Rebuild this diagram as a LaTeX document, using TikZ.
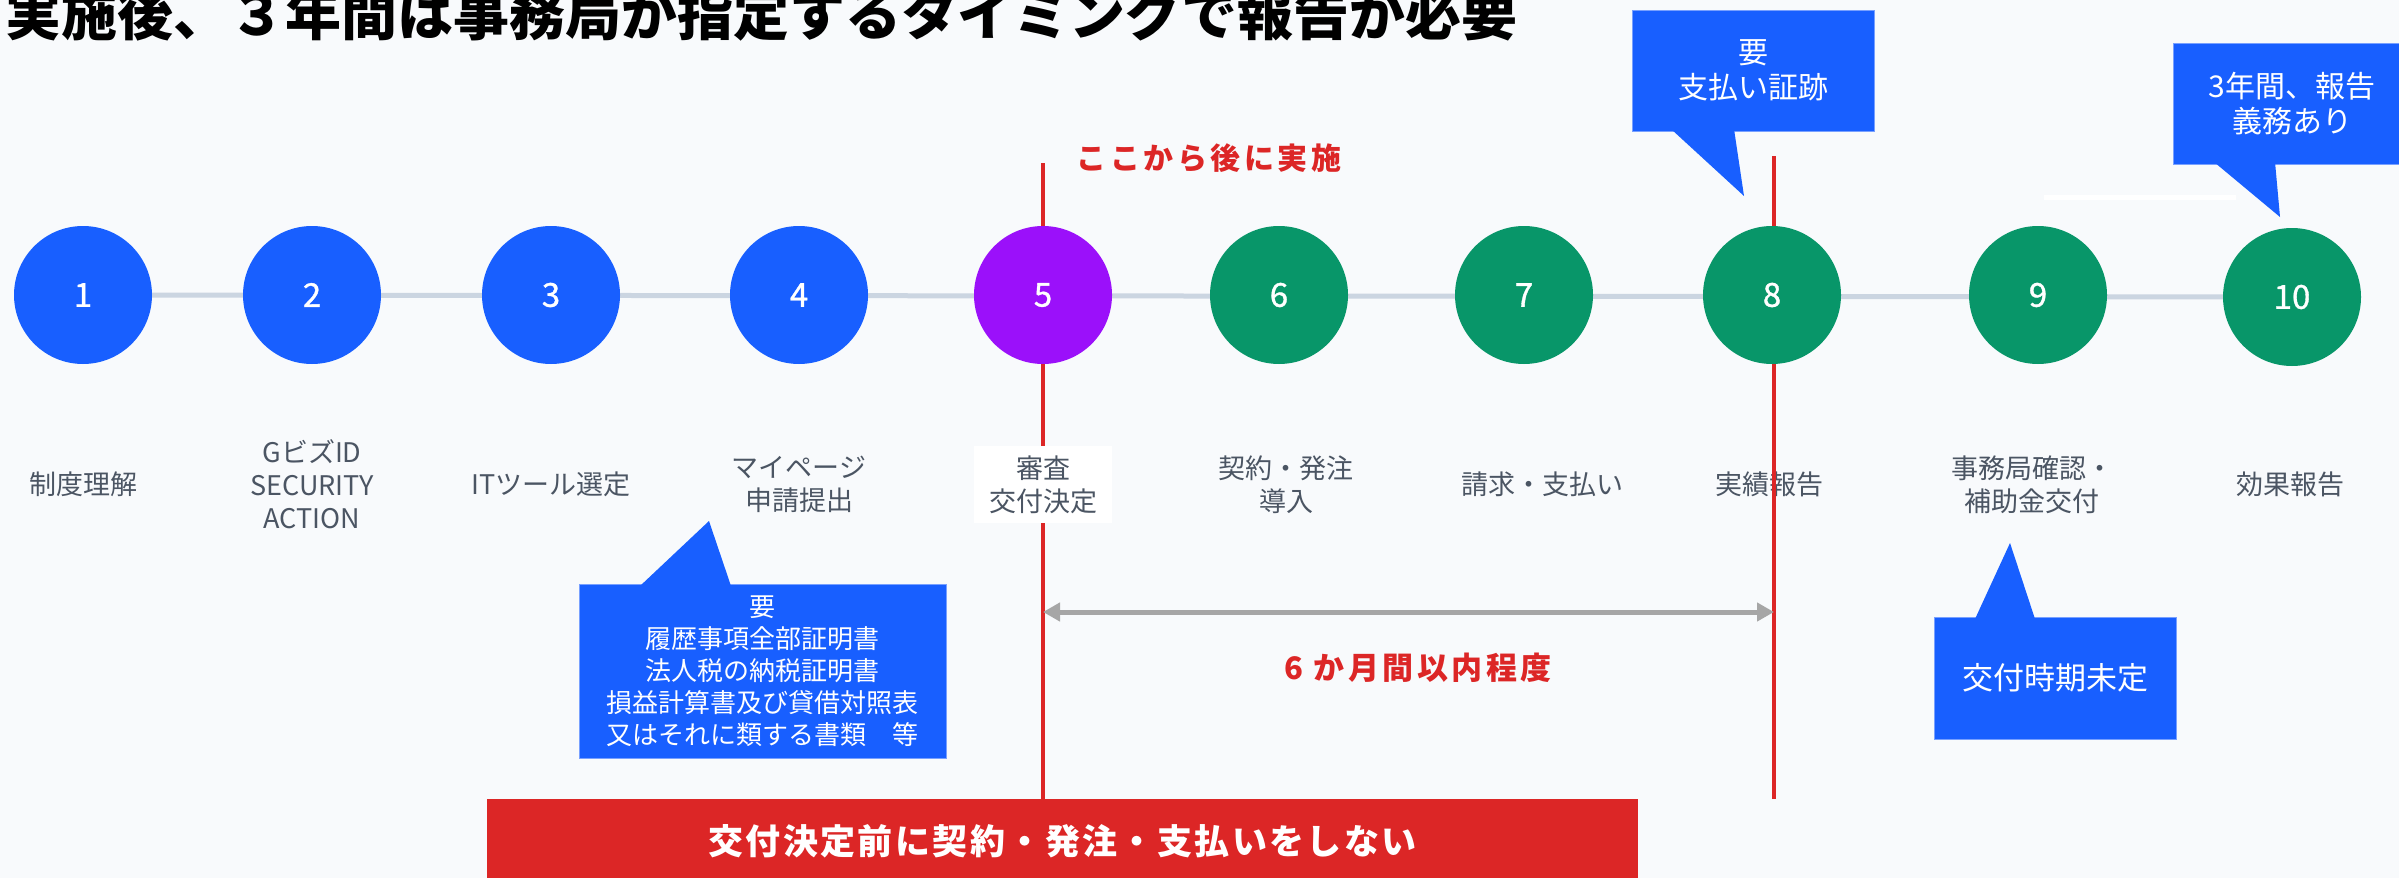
\documentclass[tikz,border=0pt]{standalone}
\usepackage{fontspec}
\setmainfont{Noto Sans CJK JP}
\newfontfamily\numfont[FakeBold=1]{Noto Sans CJK JP}
\usetikzlibrary{arrows.meta}
\definecolor{bgc}{RGB}{248,250,252}
\definecolor{cblue}{RGB}{24,95,255}
\definecolor{cgreen}{RGB}{8,150,105}
\definecolor{cpurple}{RGB}{155,16,250}
\definecolor{cred}{RGB}{220,38,38}
\definecolor{cgray}{RGB}{203,213,225}
\definecolor{agray}{RGB}{166,166,166}
\definecolor{lbl}{RGB}{75,85,99}
\definecolor{cborder}{RGB}{120,160,255}
\makeatletter
\newcommand\spreadtxt[2]{\@tfor\sp@ch:=#2\do{\sp@ch\kern#1}\kern-#1}
\makeatother
\tikzset{
  stepc/.style={circle, minimum size=69pt, inner sep=0pt, text=white,
    font=\numfont\fontsize{16.5pt}{20pt}\selectfont},
  stepb/.style={stepc, fill=cblue},
  stepg/.style={stepc, fill=cgreen},
  stepp/.style={stepc, fill=cpurple},
  lab/.style={text=lbl, align=center, inner sep=0pt,
    font=\fontsize{13.5pt}{16.5pt}\selectfont},
  callbox/.style={fill=cblue, draw=cborder, line width=0.5pt, text=white,
    align=center, inner sep=0pt},
  tailshape/.style={fill=cblue},
  redline/.style={draw=cred, line width=2pt},
  timeline/.style={draw=cgray, line width=2.5pt},
  span/.style={draw=agray, line width=2.5pt,
    {Triangle[length=8.5pt,width=9pt]}-{Triangle[length=8.5pt,width=9pt]}},
  redtxt/.style={text=cred, inner sep=0pt, font=\fontsize{15pt}{18pt}\selectfont\bfseries},
}
\begin{document}
\begin{tikzpicture}[x=0.5pt,y=-0.5pt]
\useasboundingbox (0,0) rectangle (2399,878);
\clip (0,0) rectangle (2399,878);
\fill[bgc] (0,0) rectangle (2399,878);

% title (cut at the top)
\node[anchor=base west, inner sep=0pt, font=\fontsize{28pt}{30pt}\selectfont\bfseries]
  (title) at (5,35) {実施後、３年間は事務局が指定するタイミン^^^^30b0で報告が必要};

% step positions
\coordinate (p1) at (83,295);
\coordinate (p2) at (312,295);
\coordinate (p3) at (551,295);
\coordinate (p4) at (799,295);
\coordinate (p5) at (1043,295);
\coordinate (p6) at (1279,295);
\coordinate (p7) at (1524,295);
\coordinate (p8) at (1772,295);
\coordinate (p9) at (2038,295);
\coordinate (p10) at (2292,297);

\draw[timeline] (p1) -- (p10);

% bottom red bar
\node[fill=cred, minimum width=575.5pt, minimum height=42pt, anchor=north, inner sep=0pt,
  text=white, font=\fontsize{17.5pt}{20pt}\selectfont\bfseries]
  (bar) at (1062.5,799) {\spreadtxt{1.2pt}{交付決定前に契約・発注・支払いをしない}};

% labels
\node[lab] (l1) at (83,484) {制度理解};
\node[lab] (l2) at (312,484) {GビズID\\SECURITY\\ACTION};
\node[lab] (l3) at (551,484) {ITツール選定};
\node[lab] (l4) at (799,484) {マイページ\\申請提出};
\node[lab] (l6) at (1286,485) {契約・発注\\導入};
\node[lab] (l7) at (1542,484) {請求・支払い};
\node[lab] (l8) at (1769,484) {実績報告};
\node[lab] (l9) at (2032,485) {事務局確認・\\補助金交付};
\node[lab] (l10) at (2290,484) {効果報告};

% red vertical lines
\coordinate (r1) at (1043,163);
\coordinate (r2) at (1774,156);
\draw[redline] (r1) -- (r1 |- bar.north);
\draw[redline] (r2) -- (r2 |- bar.north);

% circles
\node[stepb] (c1) at (p1) {1};
\node[stepb] (c2) at (p2) {2};
\node[stepb] (c3) at (p3) {3};
\node[stepb] (c4) at (p4) {4};
\node[stepp] (c5) at (p5) {5};
\node[stepg] (c6) at (p6) {6};
\node[stepg] (c7) at (p7) {7};
\node[stepg] (c8) at (p8) {8};
\node[stepg] (c9) at (p9) {9};
\node[stepg] (c10) at (p10) {10};

\node[lab, fill=white, minimum width=69pt, minimum height=38.5pt] (l5) at (1043,484.5) {審査\\交付決定};

% white short line
\coordinate (w1) at (2044,197);
\coordinate (w2) at (2236,197);
\draw[white, line width=2.5pt] (w1) -- (w2);

% callouts
\node[callbox, minimum width=121pt, minimum height=60.5pt,
  font=\fontsize{15pt}{17.5pt}\selectfont] (k1) at (1753,70.5) {要\\支払い証跡};
\fill[tailshape] (1671,129) -- (1744,196) -- (1734,129) -- cycle;

\node[callbox, minimum width=119pt, minimum height=60.5pt,
  font=\fontsize{15pt}{17.5pt}\selectfont] (k2) at (2292,103.5) {3年間、報告\\義務あり};
\fill[tailshape] (2214,162) -- (2280,217) -- (2275,162) -- cycle;

\node[callbox, minimum width=183.5pt, minimum height=87pt,
  font=\fontsize{13pt}{16pt}\selectfont] (k3) at (762.5,671)
  {要\\履歴事項全部証明書\\法人税の納税証明書\\損益計算書及び貸借対照表\\又はそれに類する書類　等};
\fill[tailshape] (640,586) -- (709,521) -- (731,586) -- cycle;

\node[callbox, minimum width=121pt, minimum height=61pt,
  font=\fontsize{15.5pt}{18pt}\selectfont] (k4) at (2055,678) {交付時期未定};
\fill[tailshape] (1975,619) -- (2010,543) -- (2035,619) -- cycle;

% span arrow
\coordinate (a1) at (r1 |- 0,612);
\coordinate (a2) at (r2 |- 0,612);
\draw[span] (a1) -- (a2);

% red texts
\node[redtxt] (t1) at (1209,158) {\spreadtxt{1.75pt}{ここから後に実施}};
\node[redtxt, font=\fontsize{15.5pt}{18pt}\selectfont\bfseries] (t2) at (1418,668)
  {6\kern1.75pt\ \spreadtxt{1.75pt}{か月間以内程度}};
\end{tikzpicture}
\end{document}
